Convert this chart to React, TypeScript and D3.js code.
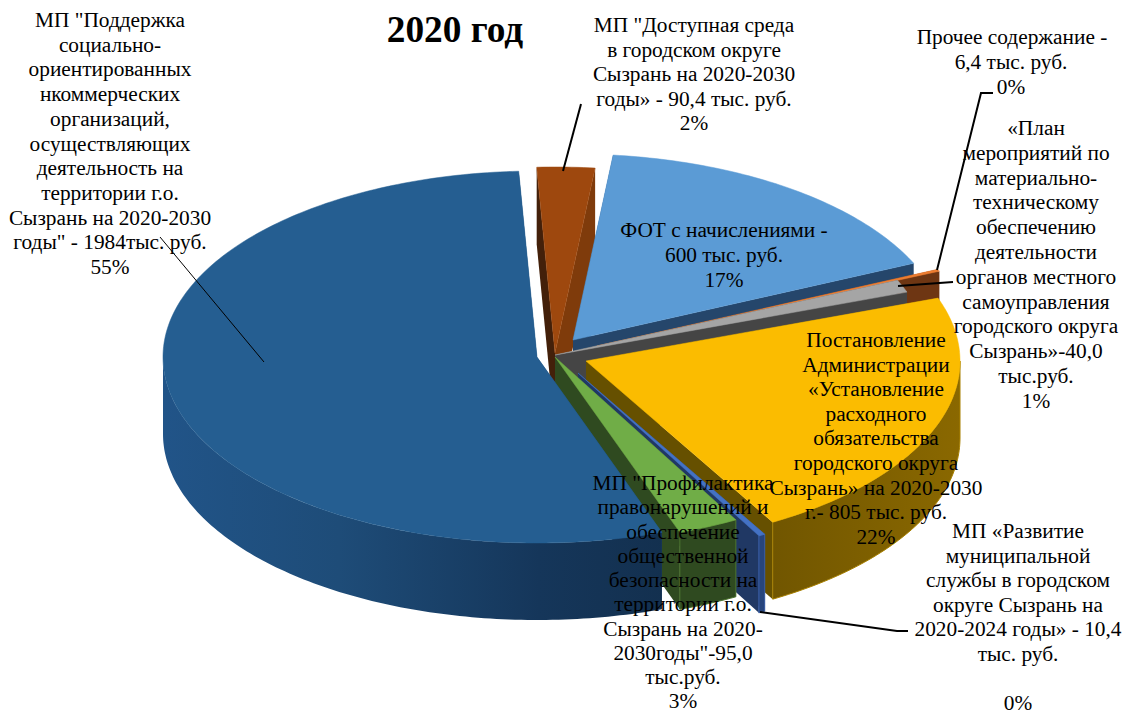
import React from "react";
import * as d3 from "d3";

// ---------- data ----------
const categories = [
  "МП Поддержка СОНКО",
  "МП Доступная среда",
  "ФОТ с начислениями",
  "Прочее содержание",
  "План мероприятий",
  "Постановление Администрации",
  "МП Развитие муниципальной службы",
  "МП Профилактика правонарушений",
];
const values = [1984, 90.4, 600, 6.4, 40, 805, 10.4, 95];
const titleText = "2020 год";
const labelA = ['МП "Поддержка', "социально-", "ориентированных", "нкоммерческих", "организаций,", "осуществляющих", "деятельность на", "территории г.о.", "Сызрань на 2020-2030", 'годы" - 1984тыс. руб.', "55%"];
const labelB = ['МП "Доступная среда', "в городском округе", "Сызрань на 2020-2030", "годы» - 90,4 тыс. руб.", "2%"];
const labelC = ["Прочее содержание -", "6,4 тыс. руб.", "0%"];
const labelD = ["«План", "мероприятий по", "материально-", "техническому", "обеспечению", "деятельности", "органов местного", "самоуправления", "городского округа", "Сызрань»-40,0", "тыс.руб.", "1%"];
const labelE = ["Постановление", "Администрации", "«Установление", "расходного", "обязательства", "городского округа", "Сызрань» на 2020-2030", "г.- 805 тыс. руб.", "22%"];
const labelF = ["ФОТ с начислениями -", "600 тыс. руб.", "17%"];
const labelG = ['МП "Профилактика', "правонарушений и", "обеспечение", "общественной", "безопасности на", "территории г.о.", "Сызрань на 2020-", '2030годы"-95,0', "тыс.руб.", "3%"];
const labelH = ["МП «Развитие", "муниципальной", "службы в городском", "округе Сызрань на", "2020-2024 годы» - 10,4", "тыс. руб.", "", "0%"];

// ---------- layout ----------
const W = 1133, H = 713;
const RX = 374, RY = 186, DEPTH = 77;
const START = (160.5 * Math.PI) / 180;
const SERIF = "'Liberation Serif', 'Times New Roman', serif";
const centers: [number, number][] = [[537, 357], [555, 353], [573, 340], [597, 346], [555, 355], [586, 361], [578, 373], [555, 357]];
const faceFill = ["#255e91", "#9e480e", "#5b9bd5", "#ed7d31", "#a5a5a5", "#fbbc00", "#4472c4", "#70ad47"];
const rimFill = ["url(#rimBlue)", "#7f3b0b", "#25466b", "#6e3613", "#454545", "url(#rimYellow)", "#27457d", "#2f4a20"];
const rimStroke = ["none", "none", "none", "none", "none", "#a88000", "#3a5fa8", "#4d7530"];
const startWallFill = ["#1c4a75", "#43200a", "#25466b", "#6e3613", "#454545", "#665000", "#203864", "#2f4a20"];
const endWallFill = ["#1c4a75", "#7f3b0b", "#25466b", "#6e3613", "#454545", "#665000", "#203864", "#2f4a20"];
const paintOrder = [1, 2, 3, 4, 5, 6, 7, 0];
const labelBlocks = [
  { lines: labelA, x: 110, y: 27, dy: 24.7, firstDx: 0 },
  { lines: labelB, x: 694, y: 32, dy: 24.6, firstDx: 0 },
  { lines: labelC, x: 1011, y: 44, dy: 25, firstDx: 1 },
  { lines: labelD, x: 1036, y: 135, dy: 24.8, firstDx: 0 },
  { lines: labelE, x: 876, y: 347, dy: 24.6, firstDx: 0 },
  { lines: labelF, x: 724, y: 237, dy: 25, firstDx: 0 },
  { lines: labelG, x: 683, y: 490, dy: 24.25, firstDx: 0 },
  { lines: labelH, x: 1018, y: 538, dy: 24.5, firstDx: 0 },
];
const leaders: { pts: [number, number][]; w: number }[] = [
  { pts: [[160, 237], [264, 362]], w: 1 },
  { pts: [[581, 104], [563, 171]], w: 2 },
  { pts: [[993, 93], [981, 93], [937, 270]], w: 2 },
  { pts: [[953, 282], [898, 286]], w: 2 },
  { pts: [[908, 631], [897, 631], [760, 612]], w: 2 },
];

type P = [number, number];
const rim = (c: P, t: number, dz = 0): P => [c[0] + RX * Math.sin(t), c[1] - RY * Math.cos(t) + dz];
const arcPts = (c: P, a: number, b: number, dz = 0): P[] => {
  const n = Math.max(2, Math.ceil(Math.abs(b - a) * 60));
  return d3.range(n + 1).map((i) => rim(c, a + ((b - a) * i) / n, dz));
};
const line = d3.line<P>().curve(d3.curveLinear);
const closed = (pts: P[]) => (line(pts) as string) + "Z";
// the part of a slice's rim that faces the viewer
const frontRange = (t0: number, t1: number): [number, number] | null => {
  for (const off of [0, 2 * Math.PI]) {
    const lo = Math.max(t0, Math.PI / 2 + off);
    const hi = Math.min(t1, (3 * Math.PI) / 2 + off);
    if (lo < hi) return [lo, hi];
  }
  return null;
};

export default function App() {
  const arcs = d3.pie<number>().sort(null).startAngle(START).endAngle(START + 2 * Math.PI)(values);
  return (
    <svg width={W} height={H} viewBox={`0 0 ${W} ${H}`} style={{ position: "absolute", left: 0, top: 0, display: "block", background: "#fff" }} fontFamily={SERIF}>
      <defs>
        <linearGradient id="rimBlue" gradientUnits="userSpaceOnUse" x1={163} x2={665} y1={0} y2={0}>
          <stop offset="0" stopColor="#215488" />
          <stop offset="0.35" stopColor="#1e4c78" />
          <stop offset="0.75" stopColor="#15365a" />
          <stop offset="1" stopColor="#13304f" />
        </linearGradient>
        <linearGradient id="rimYellow" gradientUnits="userSpaceOnUse" x1={960} x2={774} y1={0} y2={0}>
          <stop offset="0" stopColor="#8a6800" />
          <stop offset="1" stopColor="#715600" />
        </linearGradient>
      </defs>
      {paintOrder.map((i) => {
        const a = arcs[i];
        const c = centers[i];
        const t0 = a.startAngle, t1 = a.endAngle;
        const c2: P = [c[0], c[1] + DEPTH];
        const wall = (t: number) => closed([c, rim(c, t), rim(c, t, DEPTH), c2]);
        const fr = frontRange(t0, t1);
        const rimPath = fr ? closed([...arcPts(c, fr[0], fr[1]), ...arcPts(c, fr[1], fr[0], DEPTH)]) : null;
        const face = closed([c, ...arcPts(c, t0, t1)]);
        return (
          <g key={categories[i]}>
            <path d={wall(t0)} fill={startWallFill[i]} />
            <path d={wall(t1)} fill={endWallFill[i]} />
            {rimPath && <path d={rimPath} fill={rimFill[i]} stroke={rimStroke[i]} strokeWidth={1} />}
            <path d={face} fill={faceFill[i]} stroke={faceFill[i]} strokeWidth={0.5} />
          </g>
        );
      })}
      {leaders.map((l, i) => (
        <path key={i} d={line(l.pts) as string} fill="none" stroke="#000" strokeWidth={l.w} />
      ))}
      <text x={455} y={42} textAnchor="middle" fontSize={37.33} fontWeight="bold" fill="#000">{titleText}</text>
      {labelBlocks.map((b, i) => (
        <g key={i} fontSize={21.33} fill="#000" textAnchor="middle">
          {b.lines.map((s, j) => (
            <text key={j} x={b.x + (j === 0 ? b.firstDx : 0)} y={b.y + j * b.dy}>{s}</text>
          ))}
        </g>
      ))}
    </svg>
  );
}
